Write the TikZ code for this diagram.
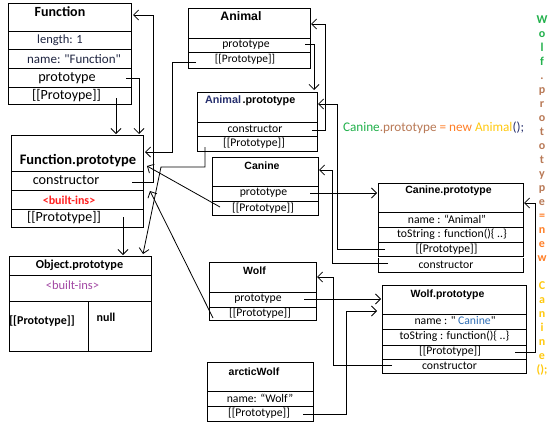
\documentclass[tikz,border=0pt]{standalone}
\usepackage{fontspec}
\setmainfont{Carlito}
\newfontfamily\lib{Liberation Sans}
\usetikzlibrary{arrows.meta}
\definecolor{fgreen}{HTML}{22B14C}
\definecolor{fbrown}{HTML}{B97A57}
\definecolor{forange}{HTML}{FF7F27}
\definecolor{fgold}{HTML}{FFC90E}
\definecolor{fnavy}{HTML}{27306E}
\definecolor{fred}{HTML}{FF1F1F}
\definecolor{fpurple}{HTML}{A349A4}
\definecolor{fblue}{HTML}{2E6DB4}
\definecolor{fdark}{HTML}{1E2440}
\newcommand\fsz[1]{\fontsize{#1}{#1}\selectfont}
\begin{document}
\begin{tikzpicture}[x=1pt,y=-1pt,
 box/.style={draw, line width=0.8pt, inner sep=0, outer sep=0, anchor=north west},
 txt/.style={inner sep=0, outer sep=0},
 conn/.style={line width=0.8pt, -{Straight Barb[length=5pt,width=10pt]}},
 div/.style={line width=0.8pt},
 ttl/.style={txt, font=\lib\bfseries\fsz{10.5}},
 rtx/.style={txt, font=\fsz{11.7}}]
\useasboundingbox[fill=white] (0,0) rectangle (557,431);

% ---------- Function ----------
\node[box, minimum width=123pt, minimum height=101pt] (fnbox) at (8,3) {};
\foreach \y in {31,49,68,87} \draw[div] (8,\y) -- (131,\y);
\node[txt, font=\bfseries\fsz{14}] (fnT) at (60,12) {Function};
\node[txt, font=\fsz{12.5}, text=fdark] (fnLen) at (60,40) {length: 1};
\node[txt, font=\fsz{13}, text=fdark] (fnName) at (74,59) {name: \textquotedbl Function\textquotedbl};
\node[txt, font=\fsz{14.2}] (fnProto) at (67,78) {prototype};
\node[txt, font=\fsz{14}] (fnPr) at (66.5,96) {[[Protoype]]};

% ---------- Function.prototype ----------
\node[box, minimum width=132pt, minimum height=92pt] (fpbox) at (11,135) {};
\foreach \y in {171,190,209} \draw[div] (11,\y) -- (143,\y);
\node[txt, font=\bfseries\fsz{14.5}] (fpT) at (78,161) {Function.prototype};
\node[txt, font=\fsz{14.2}] (fpCons) at (66,180) {constructor};
\node[txt, font=\bfseries\fsz{12}, text=fred] (fpBI) at (69,200) {<built-ins>};
\node[txt, font=\fsz{14}] (fpPr) at (64,218) {[[Prototype]]};

% ---------- Object.prototype ----------
\node[box, minimum width=142pt, minimum height=95pt] (opbox) at (9,256) {};
\foreach \y in {275,301} \draw[div] (9,\y) -- (151,\y);
\draw[div] (88,301) -- (88,351);
\node[txt, font=\bfseries\fsz{12.2}] (opT) at (79.5,265) {Object.prototype};
\node[txt, font=\fsz{12.5}, text=fpurple] (opBI) at (72.5,285) {<built-ins>};
\node[txt, font=\bfseries\fsz{12}] (opPr) at (42,321) {[[Prototype]]};
\node[txt, font=\bfseries\fsz{12}] (opNull) at (106,317) {null};

% ---------- Animal ----------
\node[box, minimum width=122pt, minimum height=60pt] (anbox) at (188,8) {};
\foreach \y in {38,52} \draw[div] (188,\y) -- (310,\y);
\node[ttl, font=\lib\bfseries\fsz{12.3}] (anT) at (241,16) {Animal};
\node[rtx] (anProto) at (246,45) {prototype};
\node[rtx, font=\fsz{11.4}] (anPr) at (245,59) {[[Prototype]]};

% ---------- Animal.prototype ----------
\node[box, minimum width=120pt, minimum height=59pt] (apbox) at (197,92) {};
\foreach \y in {122,136} \draw[div] (197,\y) -- (317,\y);
\node[ttl, anchor=west, font=\lib\bfseries\fsz{10.8}] (apT) at (205,101) {\textcolor{fnavy}{Animal}\hspace{1.5pt}.prototype};
\node[rtx] (apCons) at (255,129) {constructor};
\node[rtx] (apPr) at (254,143) {[[Prototype]]};

% ---------- Canine ----------
\node[box, minimum width=106pt, minimum height=58pt] (cabox) at (212,157) {};
\foreach \y in {186,201} \draw[div] (212,\y) -- (318,\y);
\node[ttl] (caT) at (262,166) {Canine};
\node[rtx] (caProto) at (263.5,193) {prototype};
\node[rtx] (caPr) at (263,208) {[[Prototype]]};

% ---------- Canine.prototype ----------
\node[box, minimum width=145pt, minimum height=73pt] (cpbox) at (378,183) {};
\foreach \y in {212,227,242} \draw[div] (378,\y) -- (523,\y);
\draw[div] (378,258) -- (378,272) -- (523,272) -- (523,258);
\node[ttl] (cpT) at (448.5,191) {Canine.prototype};
\node[rtx] (cpName) at (447,219) {name : “Animal”};
\node[rtx] (cpTo) at (452,234) {toString : function()\{ ..\}};
\node[rtx] (cpPr) at (446.5,249) {[[Prototype]]};
\node[rtx] (cpCons) at (446,265) {constructor};

% ---------- Wolf ----------
\node[box, minimum width=107pt, minimum height=58pt] (wobox) at (209,262) {};
\foreach \y in {292,307} \draw[div] (209,\y) -- (316,\y);
\node[ttl] (woT) at (254.5,271) {Wolf};
\node[rtx] (woProto) at (258,299) {prototype};
\node[rtx] (woPr) at (260,313) {[[Prototype]]};

% ---------- arcticWolf ----------
\node[box, minimum width=106pt, minimum height=59pt] (awbox) at (207,362) {};
\foreach \y in {391,406} \draw[div] (207,\y) -- (313,\y);
\node[ttl] (awT) at (254,372) {arcticWolf};
\node[rtx] (awName) at (260,398) {name: “Wolf”};
\node[rtx] (awPr) at (259,413) {[[Prototype]]};

% ---------- Wolf.prototype ----------
\node[box, minimum width=144pt, minimum height=88pt] (wpbox) at (382,285) {};
\foreach \y in {314,329,345,359} \draw[div] (382,\y) -- (526,\y);
\node[ttl] (wpT) at (447.5,295) {Wolf.prototype};
\node[rtx] (wpName) at (455,321) {name : \textquotedbl\ \textcolor{fblue}{Canine}\textquotedbl};
\node[rtx] (wpTo) at (454.5,336) {toString : function()\{ ..\}};
\node[rtx] (wpPr) at (450,351) {[[Prototype]]};
\node[rtx] (wpCons) at (449.5,366) {constructor};

% ---------- code texts ----------
\node[txt, anchor=west, font=\fsz{13.2}] (code1) at (343,128)
 {\textcolor{fgreen}{Canine}\textcolor{fbrown}{.prototype}\ \textcolor{forange}{=\ new}\ \textcolor{fgold}{Animal}\textcolor{fnavy}{();}};
\node[txt, anchor=north, align=center, font=\bfseries\fontsize{12}{14}\selectfont] (code2) at (542,16)
 {\textcolor{fgreen}{W}\\\textcolor{fgreen}{o}\\\textcolor{fgreen}{l}\\\textcolor{fgreen}{f}\\
  \textcolor{fbrown}{.}\\\textcolor{fbrown}{p}\\\textcolor{fbrown}{r}\\\textcolor{fbrown}{o}\\\textcolor{fbrown}{t}\\
  \textcolor{fbrown}{o}\\\textcolor{fbrown}{t}\\\textcolor{fbrown}{y}\\\textcolor{fbrown}{p}\\\textcolor{fbrown}{e}\\
  \textcolor{forange}{=}\\\textcolor{forange}{n}\\\textcolor{forange}{e}\\\textcolor{forange}{w}\\\mbox{}\\
  \textcolor{fgold}{C}\\\textcolor{fgold}{a}\\\textcolor{fgold}{n}\\\textcolor{fgold}{i}\\\textcolor{fgold}{n}\\
  \textcolor{fgold}{e}\\\textcolor{fgold}{();}};

% ---------- connector end points ----------
\coordinate (c1a) at (126,78);   \coordinate (c1b) at (139,134);
\coordinate (c2a) at (116,98);   \coordinate (c2b) at (116,134);
\coordinate (c3a) at (132,182);  \coordinate (c3b) at (133,15);
\coordinate (c4a) at (196,62);   \coordinate (c4b) at (145,152);
\coordinate (c5a) at (220,207);  \coordinate (c5b) at (147,166);
\coordinate (c6a) at (213,318);  \coordinate (c6b) at (150,191);
\coordinate (c7a) at (123,217);  \coordinate (c7b) at (123,255);
\coordinate (c8a) at (205,147);  \coordinate (c8b) at (143,254);
\coordinate (c9a) at (305,44);   \coordinate (c9b) at (314,90);
\coordinate (c10a) at (312,130); \coordinate (c10b) at (311,24);
\coordinate (c11a) at (385,249); \coordinate (c11b) at (318,104);
\coordinate (c12a) at (388,263); \coordinate (c12b) at (319,170);
\coordinate (c13a) at (310,193); \coordinate (c13b) at (377,193);
\coordinate (c14a) at (515,352); \coordinate (c14b) at (524,203);
\coordinate (c15a) at (392,365); \coordinate (c15b) at (317,277);
\coordinate (c16a) at (304,299); \coordinate (c16b) at (381,299);
\coordinate (c17a) at (303,414); \coordinate (c17b) at (377,311);

% ---------- connectors ----------
\draw[conn] (c1a) -| (c1b);
\draw[conn] (c2a) -- (c2b);
\draw[conn] (c3a) -- (153,182) -- (153,15) -- (c3b);
\draw[conn] (c4a) -- (172,62) -- (172,152) -- (c4b);
\draw[conn] (c5a) -- (c5b);
\draw[conn] (c6a) -- (c6b);
\draw[conn] (c7a) -- (c7b);
\draw[conn] (c8a) -- (205,167) -- (161,167) -- (c8b);
\draw[conn] (c9a) -| (c9b);
\draw[conn] (c10a) -- (325,130) -- (325,24) -- (c10b);
\draw[conn] (c11a) -- (337,249) -- (337,104) -- (c11b);
\draw[conn] (c12a) -- (332,263) -- (332,170) -- (c12b);
\draw[conn] (c13a) -- (c13b);
\draw[conn] (c14a) -- (535,352) -- (535,203) -- (c14b);
\draw[conn] (c15a) -- (333,365) -- (333,277) -- (c15b);
\draw[conn] (c16a) -- (c16b);
\draw[conn] (c17a) -- (346,414) -- (346,311) -- (c17b);
\end{tikzpicture}
\end{document}
